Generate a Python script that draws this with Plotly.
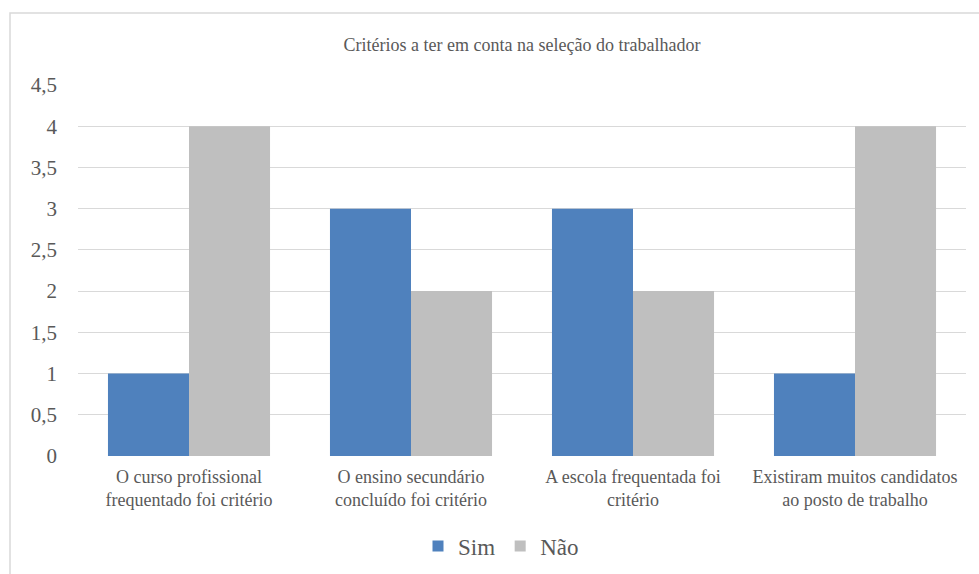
import plotly.graph_objects as go

categories = [
    "O curso profissional<br>frequentado foi critério",
    "O ensino secundário<br>concluído foi critério",
    "A escola frequentada foi<br>critério",
    "Existiram muitos candidatos<br>ao posto de trabalho",
]
sim = [1, 3, 3, 1]
nao = [4, 2, 2, 4]
y_ticks = [0, 0.5, 1, 1.5, 2, 2.5, 3, 3.5, 4, 4.5]
y_tick_labels = ["0", "0,5", "1", "1,5", "2", "2,5", "3", "3,5", "4", "4,5"]

FONT = "Liberation Serif"
TXT = "#595959"
BLUE = "#4F81BD"
GREY = "#BFBFBF"

fig = go.Figure()
fig.add_trace(go.Bar(name="Sim", x=categories, y=sim, marker_color=BLUE,
                     marker_line_width=0, showlegend=False))
fig.add_trace(go.Bar(name="Não", x=categories, y=nao, marker_color=GREY,
                     marker_line_width=0, showlegend=False))
# legend entries with small square symbols
for name, col in [("Sim", BLUE), ("Não", GREY)]:
    fig.add_trace(go.Scatter(x=[None], y=[None], mode="markers", name=name,
                             marker=dict(symbol="square", size=11, color=col)))

W, H = 979, 574
L, R, T, B = 78, 13, 85, 118
pw, ph = W - L - R, H - T - B

def px_x(p):
    return (p - L) / pw

def px_y(p):
    return (H - B - p) / ph

fig.update_layout(
    width=W, height=H,
    margin=dict(l=L, r=R, t=T, b=B, autoexpand=False),
    paper_bgcolor="white", plot_bgcolor="white",
    barmode="group", bargap=0.27, bargroupgap=0,
    font=dict(family=FONT, color=TXT),
    title=dict(text="Critérios a ter em conta na seleção do trabalhador",
               x=0.5, xref="paper", xanchor="center", y=1 - 45 / H, yanchor="middle",
               font=dict(family=FONT, size=18, color=TXT)),
    legend=dict(orientation="h", x=px_x(501), xanchor="center", xref="paper",
                y=px_y(546), yanchor="middle", yref="paper",
                font=dict(family=FONT, size=23, color=TXT), itemwidth=30,
                tracegroupgap=0),
    xaxis=dict(showgrid=False, showline=False, ticks="", zeroline=False,
               ticklabelstandoff=8,
               tickfont=dict(family=FONT, size=18, color=TXT)),
    yaxis=dict(range=[0, 4.5], tickvals=y_ticks, ticktext=y_tick_labels,
               showgrid=True, gridcolor="#D9D9D9", gridwidth=1.3, zeroline=False,
               showline=False, ticks="", ticklabelstandoff=20,
               tickfont=dict(family=FONT, size=21, color=TXT)),
    shapes=[dict(type="rect", xref="paper", yref="paper",
                 x0=px_x(10), x1=px_x(990), y0=px_y(590), y1=px_y(13),
                 line=dict(color="#D9D9D9", width=1.5), layer="below")],
)

fig.write_html("out.html")
